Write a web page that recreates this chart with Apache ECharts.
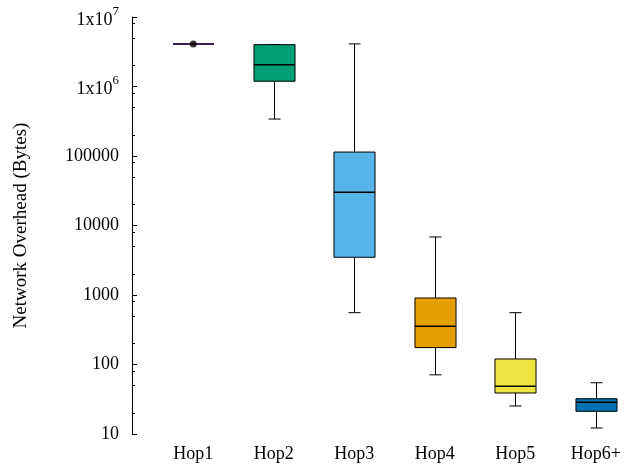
<!DOCTYPE html>
<html>
<head>
<meta charset="utf-8">
<script src="https://cdn.jsdelivr.net/npm/echarts@6/dist/echarts.min.js"></script>
<style>
  html, body { margin: 0; padding: 0; background: #fff; }
  #chart { width: 636px; height: 471px; }
</style>
</head>
<body>
<div id="chart"></div>
<script>
var categories = ['Hop1', 'Hop2', 'Hop3', 'Hop4', 'Hop5', 'Hop6+'];
var whiskerLow = [4.1e6, 3.4e5, 557, 71, 25.3, 12.2];
var q1 = [4.1e6, 1.19e6, 3490, 175, 38.9, 21.2];
var median = [4.1e6, 2.06e6, 30000, 354, 48.5, 28.6];
var q3 = [4.1e6, 4.0e6, 1.14e5, 906, 120, 32.2];
var whiskerHigh = [4.1e6, 4.0e6, 4.1e6, 6840, 557, 54.6];
var boxColors = ['#9400d3', '#009e73', '#56b4e9', '#e69f00', '#f0e442', '#0072b2'];
var pointValues = [[0, 4.1e6]];
var minorTickValues = [20, 50, 80, 200, 500, 800, 2000, 5000, 8000, 20000, 50000, 80000,
    2e5, 5e5, 8e5, 2e6, 5e6, 8e6];

var font = 'Liberation Serif';

var boxData = categories.map(function (c, i) {
    return [i, whiskerLow[i], q1[i], median[i], q3[i], whiskerHigh[i]];
});

var chart = echarts.init(document.getElementById('chart'));

function renderBox(params, api) {
    var i = api.value(0);
    var bw = api.size([1, 1])[0] * 0.51;
    var capW = 12;
    var pLow = api.coord([i, api.value(1)]);
    var pQ1 = api.coord([i, api.value(2)]);
    var pMed = api.coord([i, api.value(3)]);
    var pQ3 = api.coord([i, api.value(4)]);
    var pHigh = api.coord([i, api.value(5)]);
    var cx = Math.round(pLow[0]) + 0.5;
    var lineStyle = {stroke: '#000', lineWidth: 1};
    var border = i === 0 ? '#3a2050' : '#000';
    return {
        type: 'group',
        children: [
            {type: 'line', shape: {x1: cx, y1: pHigh[1], x2: cx, y2: pQ3[1]}, style: lineStyle},
            {type: 'line', shape: {x1: cx, y1: pQ1[1], x2: cx, y2: pLow[1]}, style: lineStyle},
            {type: 'line', shape: {x1: cx - capW / 2, y1: pHigh[1], x2: cx + capW / 2, y2: pHigh[1]}, style: lineStyle},
            {type: 'line', shape: {x1: cx - capW / 2, y1: pLow[1], x2: cx + capW / 2, y2: pLow[1]}, style: lineStyle},
            {
                type: 'rect',
                shape: {x: cx - bw / 2, y: pQ3[1], width: bw, height: pQ1[1] - pQ3[1]},
                style: {fill: boxColors[i], stroke: border, lineWidth: i === 0 ? 2 : 1}
            },
            {type: 'line', shape: {x1: cx - bw / 2, y1: pMed[1], x2: cx + bw / 2, y2: pMed[1]},
                style: {stroke: border, lineWidth: i === 0 ? 2 : 1.5}}
        ]
    };
}

chart.setOption({
    animation: false,
    textStyle: {fontFamily: font},
    grid: {left: 153, right: 0, top: 17, bottom: 37},
    xAxis: {
        type: 'category',
        data: categories,
        axisLine: {show: false},
        axisTick: {show: false},
        axisLabel: {color: '#000', fontSize: 18, fontFamily: font, margin: 11}
    },
    yAxis: [{
        type: 'log',
        logBase: 10,
        min: 10,
        max: 1e7,
        offset: 21,
        name: 'Network Overhead (Bytes)',
        nameLocation: 'middle',
        nameGap: 101,
        nameTextStyle: {color: '#000', fontSize: 19, fontFamily: font},
        axisLine: {show: true, lineStyle: {color: '#000', width: 1}},
        axisTick: {show: true, inside: true, length: 5, lineStyle: {color: '#000'}},
        splitLine: {show: false},
        axisLabel: {
            color: '#000',
            fontSize: 18,
            fontFamily: font,
            margin: 13,
            formatter: function (v) {
                if (v >= 1e6) {
                    return '{b|1x10}{s|' + Math.round(Math.log10(v)) + '}';
                }
                return String(Math.round(v));
            },
            rich: {
                b: {fontSize: 18, fontFamily: font, color: '#000', lineHeight: 24, verticalAlign: 'bottom'},
                s: {fontSize: 13, fontFamily: font, color: '#000', lineHeight: 24, verticalAlign: 'top'}
            }
        }
    }, {
        // minor ticks at 2, 5 and 8 of each decade, placed on a log10 value axis
        type: 'value',
        min: 1,
        max: 7,
        position: 'left',
        offset: 21,
        axisLine: {show: false},
        axisLabel: {show: false},
        splitLine: {show: false},
        axisTick: {
            show: true,
            inside: true,
            length: 3,
            customValues: minorTickValues.map(function (v) { return Math.log10(v); }),
            lineStyle: {color: '#000'}
        }
    }],
    series: [{
        type: 'custom',
        renderItem: renderBox,
        data: boxData,
        encode: {x: 0, y: [1, 2, 3, 4, 5]},
        z: 2
    }, {
        type: 'scatter',
        data: pointValues,
        symbol: 'circle',
        symbolSize: 7,
        itemStyle: {color: '#000'},
        z: 3
    }]
});
</script>
</body>
</html>
